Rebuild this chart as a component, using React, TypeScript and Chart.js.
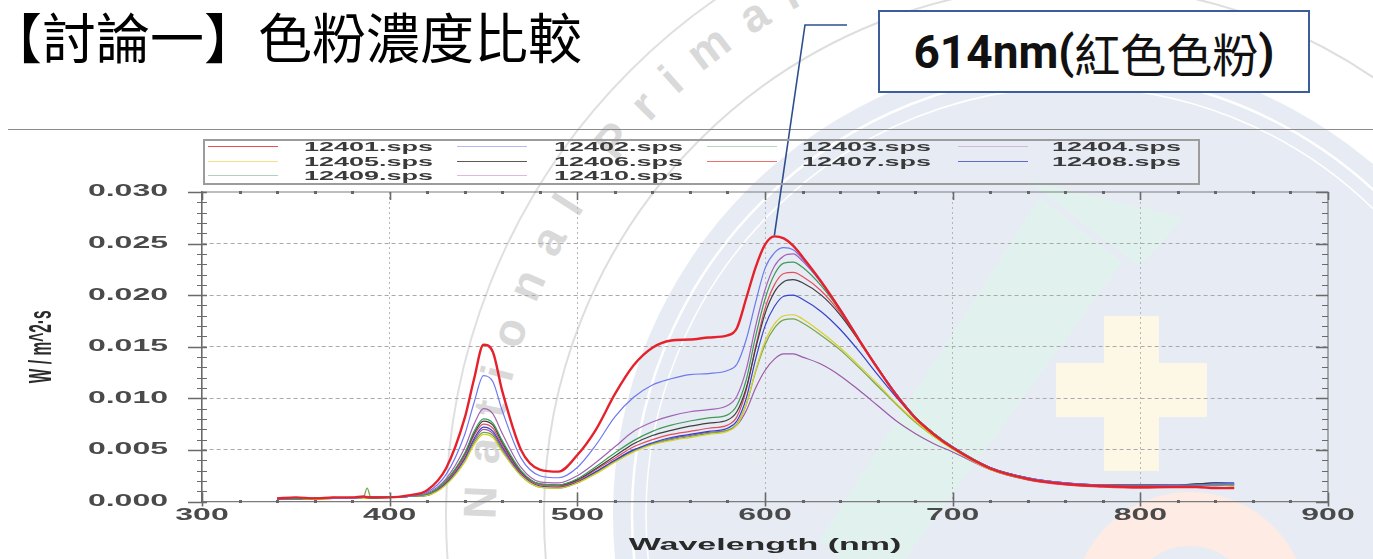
import React, { useEffect, useRef } from "react";
import { Chart, registerables } from "chart.js";

Chart.register(...registerables);

// ---------------- data ----------------
const WAVELENGTHS = [
  340, 350, 360, 370, 380, 386, 388, 390, 400, 410,
  420, 430, 440, 445, 450, 455, 460, 470, 480, 490,
  500, 510, 520, 530, 540, 550, 560, 570, 580,
  585, 590, 595, 600, 605, 610, 615, 620,
  630, 640, 650, 660, 670, 680, 690, 700,
  720, 740, 760, 780, 800, 820, 830, 840, 850,
];

const SERIES_LABELS = [
  "12401.sps", "12402.sps", "12403.sps", "12404.sps", "12405.sps",
  "12406.sps", "12407.sps", "12408.sps", "12409.sps", "12410.sps",
];

const S12401 = [
  0.0003, 0.0004, 0.0003, 0.0004, 0.0004, 0.0005, 0.0004, 0.0004, 0.0004, 0.0006,
  0.0011, 0.0032, 0.0081, 0.0119, 0.0152, 0.0145, 0.0107, 0.0050, 0.0031, 0.0029,
  0.0045, 0.0070, 0.0104, 0.0132, 0.0149, 0.0156, 0.0157, 0.0159, 0.0161,
  0.0168, 0.0197, 0.0227, 0.0249, 0.0257, 0.0255, 0.0248, 0.0237,
  0.0213, 0.0186, 0.0157, 0.0129, 0.0103, 0.0081, 0.0065, 0.0052,
  0.0032, 0.0022, 0.0017, 0.0015, 0.0014, 0.0014, 0.0014, 0.0013, 0.0013,
];
const S12402 = [
  0.0002, 0.0003, 0.0003, 0.0003, 0.0003, 0.0004, 0.0004, 0.0004, 0.0004, 0.0005,
  0.0009, 0.0026, 0.0065, 0.0096, 0.0122, 0.0116, 0.0088, 0.0042, 0.0025, 0.0023,
  0.0033, 0.0055, 0.0082, 0.0101, 0.0113, 0.0119, 0.0123, 0.0124, 0.0127,
  0.0133, 0.0157, 0.0193, 0.0226, 0.0241, 0.0246, 0.0244, 0.0235,
  0.0212, 0.0186, 0.0157, 0.0130, 0.0104, 0.0082, 0.0066, 0.0053,
  0.0032, 0.0023, 0.0018, 0.0016, 0.0015, 0.0016, 0.0016, 0.0017, 0.0017,
];
const S12403 = [
  0.0002, 0.0002, 0.0003, 0.0003, 0.0003, 0.0004, 0.0004, 0.0003, 0.0004, 0.0005,
  0.0007, 0.0020, 0.0047, 0.0068, 0.0080, 0.0076, 0.0059, 0.0030, 0.0017, 0.0016,
  0.0022, 0.0034, 0.0047, 0.0059, 0.0068, 0.0074, 0.0078, 0.0081, 0.0084,
  0.0093, 0.0118, 0.0160, 0.0196, 0.0220, 0.0231, 0.0232, 0.0227,
  0.0209, 0.0185, 0.0157, 0.0130, 0.0104, 0.0082, 0.0066, 0.0053,
  0.0032, 0.0022, 0.0017, 0.0015, 0.0015, 0.0015, 0.0016, 0.0016, 0.0016,
];
const S12404 = [
  0.0002, 0.0003, 0.0003, 0.0003, 0.0004, 0.0004, 0.0004, 0.0004, 0.0004, 0.0005,
  0.0008, 0.0022, 0.0052, 0.0075, 0.0090, 0.0085, 0.0066, 0.0033, 0.0019, 0.0018,
  0.0025, 0.0038, 0.0053, 0.0068, 0.0077, 0.0083, 0.0087, 0.0089, 0.0093,
  0.0102, 0.0128, 0.0170, 0.0205, 0.0228, 0.0238, 0.0240, 0.0233,
  0.0212, 0.0187, 0.0158, 0.0130, 0.0104, 0.0082, 0.0066, 0.0053,
  0.0033, 0.0023, 0.0018, 0.0016, 0.0015, 0.0015, 0.0016, 0.0016, 0.0017,
];
const S12405 = [
  0.0002, 0.0002, 0.0002, 0.0003, 0.0003, 0.0003, 0.0003, 0.0003, 0.0004, 0.0005,
  0.0006, 0.0016, 0.0038, 0.0055, 0.0065, 0.0062, 0.0048, 0.0025, 0.0014, 0.0013,
  0.0018, 0.0027, 0.0038, 0.0048, 0.0055, 0.0059, 0.0062, 0.0065, 0.0068,
  0.0074, 0.0094, 0.0127, 0.0155, 0.0172, 0.0180, 0.0181, 0.0177,
  0.0164, 0.0149, 0.0132, 0.0114, 0.0095, 0.0078, 0.0063, 0.0051,
  0.0031, 0.0022, 0.0017, 0.0015, 0.0014, 0.0015, 0.0015, 0.0016, 0.0015,
];
const S12406 = [
  0.0002, 0.0003, 0.0002, 0.0003, 0.0003, 0.0004, 0.0004, 0.0004, 0.0004, 0.0005,
  0.0007, 0.0020, 0.0046, 0.0066, 0.0078, 0.0074, 0.0057, 0.0029, 0.0017, 0.0016,
  0.0021, 0.0032, 0.0044, 0.0056, 0.0064, 0.0069, 0.0073, 0.0076, 0.0079,
  0.0087, 0.0110, 0.0148, 0.0182, 0.0203, 0.0213, 0.0215, 0.0212,
  0.0200, 0.0181, 0.0156, 0.0129, 0.0104, 0.0082, 0.0066, 0.0053,
  0.0033, 0.0023, 0.0018, 0.0016, 0.0016, 0.0016, 0.0017, 0.0018, 0.0017,
];
const S12407 = [
  0.0003, 0.0003, 0.0003, 0.0004, 0.0003, 0.0004, 0.0005, 0.0004, 0.0004, 0.0005,
  0.0007, 0.0019, 0.0044, 0.0064, 0.0075, 0.0071, 0.0055, 0.0028, 0.0016, 0.0015,
  0.0020, 0.0031, 0.0042, 0.0053, 0.0060, 0.0065, 0.0068, 0.0071, 0.0074,
  0.0082, 0.0108, 0.0150, 0.0187, 0.0210, 0.0221, 0.0222, 0.0218,
  0.0204, 0.0183, 0.0156, 0.0129, 0.0103, 0.0081, 0.0065, 0.0052,
  0.0031, 0.0021, 0.0016, 0.0014, 0.0013, 0.0014, 0.0014, 0.0014, 0.0013,
];
const S12408 = [
  0.0002, 0.0003, 0.0003, 0.0003, 0.0003, 0.0004, 0.0004, 0.0004, 0.0004, 0.0005,
  0.0006, 0.0018, 0.0042, 0.0061, 0.0072, 0.0068, 0.0053, 0.0027, 0.0015, 0.0014,
  0.0019, 0.0029, 0.0040, 0.0050, 0.0057, 0.0062, 0.0065, 0.0068, 0.0071,
  0.0078, 0.0100, 0.0138, 0.0170, 0.0189, 0.0199, 0.0200, 0.0196,
  0.0184, 0.0167, 0.0146, 0.0123, 0.0101, 0.0081, 0.0065, 0.0052,
  0.0033, 0.0023, 0.0018, 0.0016, 0.0016, 0.0016, 0.0017, 0.0018, 0.0018,
];
const S12409 = [
  0.0002, 0.0002, 0.0003, 0.0003, 0.0003, 0.0004, 0.0013, 0.0004, 0.0004, 0.0005,
  0.0006, 0.0017, 0.0039, 0.0057, 0.0067, 0.0064, 0.0049, 0.0025, 0.0014, 0.0013,
  0.0018, 0.0028, 0.0039, 0.0049, 0.0056, 0.0060, 0.0063, 0.0066, 0.0069,
  0.0075, 0.0094, 0.0126, 0.0152, 0.0168, 0.0176, 0.0177, 0.0173,
  0.0161, 0.0147, 0.0130, 0.0112, 0.0094, 0.0077, 0.0063, 0.0051,
  0.0031, 0.0021, 0.0017, 0.0015, 0.0014, 0.0015, 0.0016, 0.0017, 0.0016,
];
const S12410 = [
  0.0002, 0.0003, 0.0003, 0.0003, 0.0003, 0.0003, 0.0004, 0.0004, 0.0004, 0.0005,
  0.0006, 0.0018, 0.0041, 0.0059, 0.0070, 0.0066, 0.0051, 0.0026, 0.0015, 0.0014,
  0.0019, 0.0029, 0.0040, 0.0050, 0.0056, 0.0061, 0.0064, 0.0067, 0.0069,
  0.0074, 0.0088, 0.0110, 0.0127, 0.0138, 0.0143, 0.0143, 0.0140,
  0.0133, 0.0122, 0.0108, 0.0093, 0.0078, 0.0066, 0.0056, 0.0048,
  0.0031, 0.0022, 0.0017, 0.0015, 0.0014, 0.0015, 0.0015, 0.0016, 0.0015,
];

const SERIES_VALUES = [
  S12401, S12402, S12403, S12404, S12405,
  S12406, S12407, S12408, S12409, S12410,
];

const X_MIN = 300;
const X_MAX = 900;
const X_STEP = 100;
const X_MINOR = 20;
const Y_MIN = 0;
const Y_MAX = 0.03;
const Y_STEP = 0.005;
const Y_MINOR = 0.001;

const X_TITLE = "Wavelength (nm)";
const Y_TITLE = "W / m^2·s";
const PAGE_TITLE = "【討論一】色粉濃度比較";
const NOTE_NUM = "614nm(";
const NOTE_CJK = "紅色色粉";
const NOTE_END = ")";
const WATERMARK = "National Primary School";

const PEAK_NM = 605;
const PEAK_VALUE = 0.0257;

// ---------------- styles ----------------
const SERIES_COLORS = [
  "#e5222c", "#6e78ee", "#3f9a58", "#a263b4", "#d9cf2a",
  "#3f3f3f", "#e44f5e", "#3442cc", "#74a548", "#9a5aa6",
];
const LEGEND_COLORS = [
  "#ea5050", "#b3b8f4", "#b3d8ba", "#d2b8d4", "#f2e08a",
  "#5a5a5a", "#ea7070", "#6068cc", "#afd2bc", "#e0b8de",
];
const SERIES_WIDTHS = [2.4, 1.2, 1.2, 1.2, 1.2, 1.2, 1.2, 1.2, 1.2, 1.2];

const W = 1373;
const H = 559;
const TEXT_STRETCH = 2;
const FONT = "'Liberation Sans', Arial, sans-serif";

function patchTextStretch(ctx: any, sx: number) {
  if (ctx.__stretched) return;
  ctx.__stretched = true;
  const origFill = ctx.fillText.bind(ctx);
  const origMeasure = ctx.measureText.bind(ctx);
  ctx.fillText = function (text: string, x: number, y: number, maxWidth?: number) {
    const m = ctx.getTransform();
    const p = m.transformPoint(new DOMPoint(x, y));
    ctx.save();
    const s = new DOMMatrix()
      .translate(p.x, p.y)
      .scale(sx, 1)
      .translate(-p.x, -p.y)
      .multiply(m);
    ctx.setTransform(s);
    if (maxWidth === undefined || maxWidth === null) origFill(text, x, y);
    else origFill(text, x, y, maxWidth / sx);
    ctx.restore();
  };
  ctx.measureText = function (text: string) {
    const m = origMeasure(text);
    return {
      width: m.width * sx,
      actualBoundingBoxAscent: m.actualBoundingBoxAscent,
      actualBoundingBoxDescent: m.actualBoundingBoxDescent,
      actualBoundingBoxLeft: m.actualBoundingBoxLeft * sx,
      actualBoundingBoxRight: m.actualBoundingBoxRight * sx,
      fontBoundingBoxAscent: m.fontBoundingBoxAscent,
      fontBoundingBoxDescent: m.fontBoundingBoxDescent,
    };
  };
}

const framePlugin = {
  id: "frameTicks",
  afterDatasetsDraw(chart: any) {
    const { ctx, chartArea } = chart;
    const { left, right, top, bottom } = chartArea;
    const xs = chart.scales.x;
    const ys = chart.scales.y;
    ctx.save();
    ctx.setLineDash([]);
    ctx.strokeStyle = "#7c7c7c";
    ctx.lineWidth = 1.2;
    ctx.beginPath();
    ctx.moveTo(left, top);
    ctx.lineTo(right, top);
    ctx.lineTo(right, bottom);
    ctx.stroke();

    ctx.strokeStyle = "#6a6a6a";
    const ny = Math.round((Y_MAX - Y_MIN) / Y_MINOR);
    const majorEveryY = Math.round(Y_STEP / Y_MINOR);
    for (let i = 0; i <= ny; i++) {
      const v = Y_MIN + i * Y_MINOR;
      const py = Math.round(ys.getPixelForValue(v)) + 0.5;
      const major = i % majorEveryY === 0;
      ctx.lineWidth = major ? 1.6 : 1.1;
      ctx.beginPath();
      ctx.moveTo(left - (major ? 14 : 5), py);
      ctx.lineTo(left + 5, py);
      ctx.moveTo(right - (major ? 12 : 6), py);
      ctx.lineTo(right, py);
      ctx.stroke();
    }
    const nx = Math.round((X_MAX - X_MIN) / X_MINOR);
    const majorEveryX = Math.round(X_STEP / X_MINOR);
    for (let i = 0; i <= nx; i++) {
      const v = X_MIN + i * X_MINOR;
      const px = Math.round(xs.getPixelForValue(v)) + 0.5;
      const major = i % majorEveryX === 0;
      if (major) {
        ctx.lineWidth = 1.6;
        ctx.beginPath();
        ctx.moveTo(px, bottom - 9);
        ctx.lineTo(px, bottom + 5);
        ctx.moveTo(px, top);
        ctx.lineTo(px, top + 8);
        ctx.stroke();
      } else {
        ctx.fillStyle = "#666";
        ctx.fillRect(px - 1.5, bottom - 1.5, 3, 3);
        ctx.fillRect(px - 1.5, top - 1, 3, 3);
      }
    }
    ctx.restore();
  },
  afterDraw(chart: any) {
    const { ctx } = chart;
    const px = chart.scales.x.getPixelForValue(PEAK_NM);
    const py = chart.scales.y.getPixelForValue(PEAK_VALUE);
    ctx.save();
    ctx.setLineDash([]);
    ctx.strokeStyle = "#2d4f8e";
    ctx.lineWidth = 1.6;
    ctx.beginPath();
    ctx.moveTo(847, 25);
    ctx.lineTo(805, 25);
    ctx.lineTo(px, py - 1);
    ctx.stroke();
    ctx.restore();
  },
};

const LEGEND_LINE_X = [208, 457, 707, 958];
const LEGEND_TEXT_X = [304, 554, 802, 1052];
const LEGEND_ROW_Y = [147, 161.5, 176];
const LEGEND_BOX = { left: 203, top: 139, width: 997, height: 46 };

function Legend() {
  return (
    <div
      style={{
        position: "absolute",
        left: LEGEND_BOX.left,
        top: LEGEND_BOX.top,
        width: LEGEND_BOX.width,
        height: LEGEND_BOX.height,
        border: "2px solid #9c9c9c",
        boxSizing: "border-box",
      }}
    >
      {SERIES_LABELS.map((label, i) => {
        const col = i % 4;
        const row = Math.floor(i / 4);
        const cy = LEGEND_ROW_Y[row] - LEGEND_BOX.top - 2;
        return (
          <React.Fragment key={label}>
            <div
              style={{
                position: "absolute",
                left: LEGEND_LINE_X[col] - LEGEND_BOX.left - 2,
                top: cy - 0.75,
                width: 70,
                height: 0,
                borderTop: `1.5px solid ${LEGEND_COLORS[i]}`,
              }}
            />
            <span
              style={{
                position: "absolute",
                left: LEGEND_TEXT_X[col] - LEGEND_BOX.left - 2,
                top: cy - 8,
                height: 16,
                lineHeight: "16px",
                fontFamily: FONT,
                fontWeight: "bold",
                fontSize: 13.5,
                color: "#3a3a3a",
                whiteSpace: "nowrap",
                transform: `scaleX(${TEXT_STRETCH})`,
                transformOrigin: "0 50%",
              }}
            >
              {label}
            </span>
          </React.Fragment>
        );
      })}
    </div>
  );
}

function Background() {
  const cx = 1074;
  const cy = 515;
  const rText = 578;
  const a0 = (176 * Math.PI) / 180;
  const a1 = (330 * Math.PI) / 180;
  const p0 = [cx + rText * Math.cos(a0), cy + rText * Math.sin(a0)];
  const p1 = [cx + rText * Math.cos(a1), cy + rText * Math.sin(a1)];
  return (
    <svg
      width={W}
      height={H}
      style={{ position: "absolute", left: 0, top: 0 }}
      xmlns="http://www.w3.org/2000/svg"
    >
      <rect x={0} y={0} width={W} height={H} fill="#ffffff" />
      <circle cx={cx} cy={cy} r={461} fill="#e7ebf4" />
      <circle cx={cx} cy={cy} r={442} fill="none" stroke="#ffffff" strokeWidth={2.5} />
      <circle cx={cx} cy={cy} r={428} fill="none" stroke="#ffffff" strokeWidth={1.5} />
      <circle cx={cx} cy={cy} r={530} fill="none" stroke="#dedede" strokeWidth={2} />
      <circle cx={cx} cy={cy} r={628} fill="none" stroke="#e0e0e0" strokeWidth={2} />
      <path
        id="wmPath"
        d={`M ${p0[0]} ${p0[1]} A ${rText} ${rText} 0 0 1 ${p1[0]} ${p1[1]}`}
        fill="none"
      />
      <text
        fontFamily={FONT}
        fontSize={46}
        fontWeight="bold"
        fill="#d9d9d9"
        letterSpacing={21}
      >
        <textPath href="#wmPath" startOffset={36}>
          {WATERMARK}
        </textPath>
      </text>
      <polygon points="820,540 1040,198 1122,262 905,559 840,559" fill="#e1f2ee" />
      <polygon points="1027,180 1183,218 1140,267" fill="#e1f2ee" />
      <rect x={1104} y={316} width={55} height={155} fill="#fcf8e5" />
      <rect x={1056} y={363} width={151} height={54} fill="#fcf8e5" />
      <circle cx={1190} cy={610} r={91} fill="none" stroke="#fdebe4" strokeWidth={54} />
    </svg>
  );
}

export default function App() {
  const canvasRef = useRef<HTMLCanvasElement | null>(null);

  useEffect(() => {
    const canvas = canvasRef.current;
    if (!canvas) return;
    const ctx = canvas.getContext("2d");
    patchTextStretch(ctx, TEXT_STRETCH);

    const datasets = SERIES_LABELS.map((label, i) => ({
      label,
      data: WAVELENGTHS.map((w, j) => ({ x: w, y: SERIES_VALUES[i][j] })),
      borderColor: SERIES_COLORS[i],
      backgroundColor: SERIES_COLORS[i],
      borderWidth: SERIES_WIDTHS[i],
      pointRadius: 0,
      fill: false,
      cubicInterpolationMode: "monotone",
      order: i === 0 ? 0 : 1,
    }));

    const tickFont = { family: FONT, size: 16, weight: "bold" };
    const chart = new Chart(canvas, {
      type: "line",
      data: { datasets },
      plugins: [framePlugin],
      options: {
        animation: false,
        responsive: false,
        devicePixelRatio: 1,
        layout: { padding: { left: 0, right: 45, top: 192, bottom: 0 } },
        plugins: {
          legend: { display: false },
          tooltip: { enabled: false },
        },
        scales: {
          x: {
            type: "linear",
            min: X_MIN,
            max: X_MAX,
            ticks: {
              stepSize: X_STEP,
              padding: 4,
              color: "#4a4a4a",
              font: tickFont,
              maxRotation: 0,
              autoSkip: false,
            },
            grid: {
              drawTicks: false,
              lineWidth: 1,
              color: (c: any) =>
                c.tick && c.tick.value > X_MIN && c.tick.value < X_MAX
                  ? "#b5b5b5"
                  : "rgba(0,0,0,0)",
            },
            border: { display: true, color: "#7c7c7c", width: 1.2, dash: [2, 3] },
            title: {
              display: true,
              text: X_TITLE,
              color: "#2a2a2a",
              font: { family: FONT, size: 17, weight: "bold" },
              padding: { top: 0, bottom: 3 },
            },
            afterFit: (s: any) => {
              s.height = 57.5;
            },
          },
          y: {
            type: "linear",
            min: Y_MIN,
            max: Y_MAX,
            ticks: {
              stepSize: Y_STEP,
              padding: 34,
              color: "#4a4a4a",
              font: tickFont,
              callback: (v: any) => Number(v).toFixed(3),
            },
            grid: {
              drawTicks: false,
              lineWidth: 1,
              color: (c: any) =>
                c.tick && c.tick.value > Y_MIN + 1e-9 && c.tick.value < Y_MAX - 1e-9
                  ? "#aaaaaa"
                  : "rgba(0,0,0,0)",
            },
            border: { display: true, color: "#6a6a6a", width: 1.6, dash: [4, 3] },
            title: {
              display: true,
              text: Y_TITLE,
              color: "#2a2a2a",
              font: { family: FONT, size: 15.5, weight: "bold" },
              padding: { top: 33, bottom: 0 },
            },
            afterFit: (s: any) => {
              s.width = 202;
            },
          },
        },
      },
    } as any);

    return () => chart.destroy();
  }, []);

  return (
    <div
      style={{
        position: "fixed",
        left: 0,
        top: 0,
        width: W,
        height: H,
        overflow: "hidden",
        background: "#fff",
      }}
    >
      <Background />
      <div
        style={{
          position: "absolute",
          left: 8,
          top: 128.5,
          width: W - 8,
          height: 0,
          borderTop: "1.5px solid #8a8a8a",
        }}
      />
      <canvas
        ref={canvasRef}
        width={W}
        height={H}
        style={{ position: "absolute", left: 0, top: 0, width: W, height: H }}
      />
      <Legend />
      <div
        style={{
          position: "absolute",
          left: -12,
          top: 7,
          fontFamily: "'Noto Sans CJK TC', 'Noto Sans CJK SC', sans-serif",
          fontSize: 54,
          lineHeight: "58px",
          color: "#000",
          whiteSpace: "nowrap",
        }}
      >
        {PAGE_TITLE}
      </div>
      <div
        style={{
          position: "absolute",
          left: 878,
          top: 10,
          width: 432,
          height: 83,
          border: "2px solid #3d5c9a",
          boxSizing: "border-box",
          background: "#fff",
          display: "flex",
          alignItems: "center",
          justifyContent: "center",
          whiteSpace: "nowrap",
          color: "#111",
          fontSize: 46,
        }}
      >
        <span style={{ fontFamily: "Roboto, 'Open Sans', sans-serif", fontWeight: 700 }}>
          {NOTE_NUM}
        </span>
        <span style={{ fontFamily: "'Noto Sans CJK TC', sans-serif", fontWeight: 400 }}>
          {NOTE_CJK}
        </span>
        <span style={{ fontFamily: "Roboto, 'Open Sans', sans-serif", fontWeight: 700 }}>
          {NOTE_END}
        </span>
      </div>
    </div>
  );
}
